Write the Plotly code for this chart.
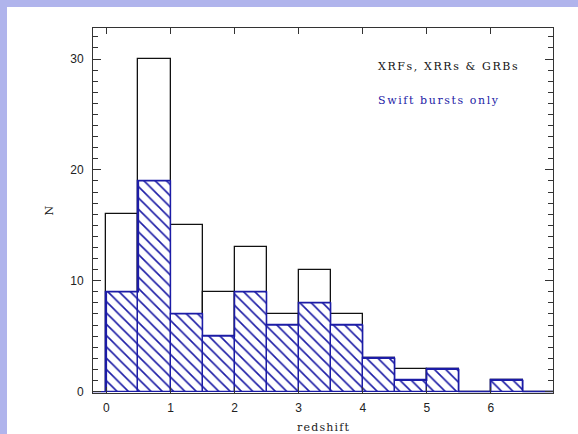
import plotly.graph_objects as go

# ---- data ----
bin_left = [0.0, 0.5, 1.0, 1.5, 2.0, 2.5, 3.0, 3.5, 4.0, 4.5, 5.0, 5.5, 6.0, 6.5]
bin_width = 0.5
all_bursts = [16, 30, 15, 9, 13, 7, 11, 7, 3, 2, 2, 0, 1, 0]
swift_bursts = [9, 19, 7, 5, 9, 6, 8, 6, 3, 1, 2, 0, 1, 0]
x_ticks = [0, 1, 2, 3, 4, 5, 6]
y_ticks = [0, 10, 20, 30]

BLUE = "#1c1ca6"
LAV = "#b0b4ec"

fig = go.Figure()

# all bursts: open black boxes
fig.add_trace(go.Bar(
    x=bin_left, y=all_bursts, width=bin_width, offset=0,
    marker=dict(color="rgba(0,0,0,0)", line=dict(color="#111111", width=1.3)),
    showlegend=False, hoverinfo="skip",
))

# Swift bursts: hatched blue boxes
fig.add_trace(go.Bar(
    x=bin_left, y=swift_bursts, width=bin_width, offset=0,
    marker=dict(color="white",
                line=dict(color=BLUE, width=1.3),
                pattern=dict(shape="\\", fgcolor=BLUE, bgcolor="white",
                             size=8, solidity=0.2, fillmode="replace")),
    showlegend=False, hoverinfo="skip",
))

# step outline (shows empty bins along zero)
step_x = [bin_left[0] - bin_width] + bin_left + [bin_left[-1] + bin_width]
step_y = [0] + swift_bursts + [swift_bursts[-1]]
fig.add_trace(go.Scatter(
    x=step_x, y=step_y, mode="lines", line=dict(color=BLUE, width=1.3, shape="hv"),
    showlegend=False, hoverinfo="skip", cliponaxis=True,
))

fig.update_layout(
    width=571, height=427,
    margin=dict(l=86, r=25, t=21, b=41, pad=0),
    paper_bgcolor="white", plot_bgcolor="white",
    barmode="overlay", bargap=0,
    font=dict(family="Liberation Sans, Arial, sans-serif", size=12, color="#222222"),
    annotations=[
        dict(text="<span style='letter-spacing:1.6px'>XRFs,\u00a0XRRs\u00a0&amp;\u00a0GRBs</span>",
             x=4.21, y=29.3, xref="x", yref="y", xanchor="left", yanchor="middle",
             showarrow=False, font=dict(family="DejaVu Serif", size=11, color="#111111")),
        dict(text="<span style='letter-spacing:1.6px'>Swift\u00a0bursts\u00a0only</span>",
             x=4.21, y=26.3, xref="x", yref="y", xanchor="left", yanchor="middle",
             showarrow=False, font=dict(family="DejaVu Serif", size=11, color=BLUE)),
        dict(text="<span style='letter-spacing:1.2px'>redshift</span>",
             x=0.5, y=0, xref="paper", yref="paper", xanchor="center", yanchor="middle",
             yshift=-34, showarrow=False,
             font=dict(family="DejaVu Serif", size=11, color="#222222")),
        dict(text="N", x=0, y=0.5, xref="paper", yref="paper", xanchor="center",
             yanchor="middle", xshift=-44, textangle=-90, showarrow=False,
             font=dict(family="DejaVu Serif", size=11, color="#222222")),
    ],
)

fig.update_xaxes(
    range=[-0.21, 6.97], tickvals=x_ticks, ticktext=[str(v) for v in x_ticks],
    ticks="inside", ticklen=6, tickwidth=1, tickcolor="#333333",
    showline=True, linecolor="#333333", linewidth=1, mirror="allticks",
    showgrid=False, zeroline=False, ticklabelstandoff=4,
)
fig.update_yaxes(
    range=[-0.13, 32.8], tickvals=y_ticks, ticktext=[str(v) for v in y_ticks],
    ticks="inside", ticklen=8, tickwidth=1, tickcolor="#333333",
    minor=dict(dtick=1, tick0=0, ticks="inside", ticklen=5, tickwidth=1, tickcolor="#333333"),
    showline=True, linecolor="#333333", linewidth=1, mirror="allticks",
    showgrid=False, zeroline=False, ticklabelstandoff=6,
)

page_js = (
    "document.documentElement.style.background='white';"
    "document.body.style.background='white';"
    "document.body.style.margin='0';"
    "document.body.style.borderTop='7px solid " + LAV + "';"
    "document.body.style.borderLeft='7px solid " + LAV + "';"
    "document.body.style.overflow='hidden';"
)
fig.write_html("out.html", post_script=page_js)
